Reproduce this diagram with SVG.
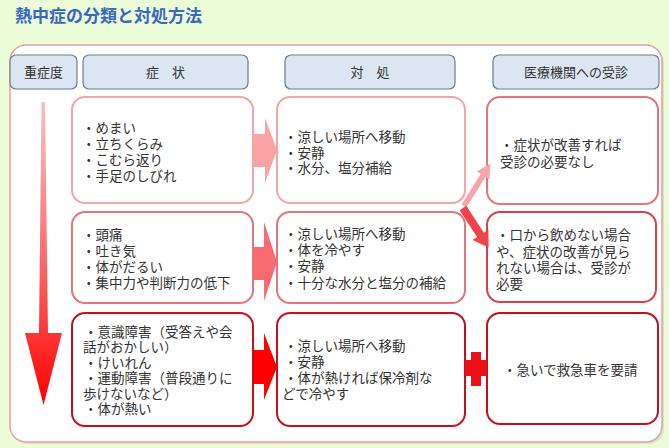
<svg xmlns="http://www.w3.org/2000/svg" width="669" height="448" viewBox="0 0 669 448">
<defs>
<linearGradient id="sev" x1="0" y1="0" x2="0" y2="1">
<stop offset="0" stop-color="#f9c0c0"/>
<stop offset="0.5" stop-color="#fb7070"/>
<stop offset="1" stop-color="#ff0000"/>
</linearGradient>
<style>
.t{font-family:"Liberation Sans","Noto Sans CJK JP",sans-serif;font-size:13.5px;fill:#333}
.h{font-family:"Liberation Sans","Noto Sans CJK JP",sans-serif;font-size:13px;fill:#333;text-anchor:middle}
.hb{fill:#dce6f2;stroke:#6d7c8e;stroke-width:1.2}
.b1{fill:#fff;stroke:#f4a5a8;stroke-width:2}
.b1m{fill:#fff;stroke:#e3747c;stroke-width:2}
.b2{fill:#fff;stroke:#e7737c;stroke-width:2}
.b2m{fill:#fff;stroke:#d8404a;stroke-width:2}
.b3{fill:#fff;stroke:#c4101c;stroke-width:2}
</style>
</defs>
<rect width="669" height="448" fill="#ebfcd9"/>
<text x="15" y="22" font-family="'Liberation Sans','Noto Sans CJK JP',sans-serif" font-size="17" font-weight="bold" fill="#3a68c0">熱中症の分類と対処方法</text>
<rect x="12" y="47" width="652" height="397" rx="16" fill="#c9d3c0" opacity="0.6"/>
<rect x="10" y="45" width="652" height="397" rx="16" fill="#fff" stroke="#eaa09c" stroke-width="1.5"/>

<g id="header-severity"><rect class="hb" x="10" y="55" width="67" height="34" rx="6"/><text class="h" x="43.5" y="77">重症度</text></g>
<g id="header-symptoms"><rect class="hb" x="83" y="55" width="165" height="34" rx="6"/><text class="h" x="165.5" y="77">症　状</text></g>
<g id="header-action"><rect class="hb" x="285" y="55" width="170" height="34" rx="6"/><text class="h" x="370" y="77">対　処</text></g>
<g id="header-medical"><rect class="hb" x="493" y="55" width="166" height="34" rx="6"/><text class="h" x="576" y="77">医療機関への受診</text></g>

<g id="severity-arrow"><polygon points="41.5,102 45,102 48,333 62,333 43.5,405 25,333 39,333" fill="url(#sev)"/></g>

<g id="row1-symptoms"><rect class="b1" x="72" y="97" width="181" height="106" rx="13"/>
<text class="t"><tspan x="82" y="133">・めまい</tspan><tspan x="82" y="149">・立ちくらみ</tspan><tspan x="82" y="165">・こむら返り</tspan><tspan x="82" y="181">・手足のしびれ</tspan></text></g>
<g id="row1-action"><rect class="b1" x="277" y="97" width="188" height="106" rx="13"/>
<text class="t"><tspan x="284" y="142">・涼しい場所へ移動</tspan><tspan x="284" y="157.5">・安静</tspan><tspan x="284" y="173">・水分、塩分補給</tspan></text></g>
<g id="row1-medical"><rect class="b1m" x="487" y="97" width="171" height="107" rx="13"/>
<text class="t"><tspan x="500" y="150">・症状が改善すれば</tspan><tspan x="500" y="167">受診の必要なし</tspan></text></g>

<g id="row2-symptoms"><rect class="b2" x="72" y="212" width="181" height="91" rx="13"/>
<text class="t"><tspan x="82" y="240">・頭痛</tspan><tspan x="82" y="256">・吐き気</tspan><tspan x="82" y="272">・体がだるい</tspan><tspan x="82" y="288">・集中力や判断力の低下</tspan></text></g>
<g id="row2-action"><rect class="b2" x="277" y="212" width="188" height="91" rx="13"/>
<text class="t"><tspan x="284" y="239">・涼しい場所へ移動</tspan><tspan x="284" y="255">・体を冷やす</tspan><tspan x="284" y="271">・安静</tspan><tspan x="284" y="288">・十分な水分と塩分の補給</tspan></text></g>
<g id="row2-medical"><rect class="b2m" x="487" y="212" width="169" height="90" rx="13"/>
<text class="t"><tspan x="496" y="240">・口から飲めない場合</tspan><tspan x="496" y="257">や、症状の改善が見ら</tspan><tspan x="496" y="273">れない場合は、受診が</tspan><tspan x="496" y="289">必要</tspan></text></g>

<g id="row3-symptoms"><rect class="b3" x="72" y="313" width="181" height="113" rx="13"/>
<text class="t"><tspan x="84" y="336.5">・意識障害（受答えや会</tspan><tspan x="83" y="352">話がおかしい）</tspan><tspan x="84" y="367.5">・けいれん</tspan><tspan x="84" y="383">・運動障害（普段通りに</tspan><tspan x="83" y="398.5">歩けないなど）</tspan><tspan x="84" y="414">・体が熱い</tspan></text></g>
<g id="row3-action"><rect class="b3" x="277" y="313" width="188" height="113" rx="13"/>
<text class="t"><tspan x="284" y="351">・涼しい場所へ移動</tspan><tspan x="284" y="367">・安静</tspan><tspan x="284" y="383">・体が熱ければ保冷剤な</tspan><tspan x="282" y="399">どで冷やす</tspan></text></g>
<g id="row3-medical"><rect class="b3" x="487" y="313" width="171" height="111" rx="13"/>
<text class="t"><tspan x="503" y="375">・急いで救急車を要請</tspan></text></g>

<g id="connectors">
<polygon points="254,134 265,134 265,118 277,150 265,183 265,167 254,167" fill="#f9a3a6"/>
<polygon points="254,247 264,247 264,222 277,262 264,301 264,280 254,280" fill="#f86b70"/>
<polygon points="254,350 264,350 264,333 277,367 264,400 264,384 254,384" fill="#ff0000"/>
<path d="M465,360 H487 V376 H465 Z M471,352 H481 V386 H471 Z" fill="#ee1018"/>
<polygon points="0,-2.8 36,-2.8 36,-7.5 50,0 36,7.5 36,2.8 0,2.8" fill="#f8a4ab" transform="translate(464,206) rotate(-58)"/>
<polygon points="0,-4 32,-4 32,-9.5 47,0 32,9.5 32,4 0,4" fill="#f0434b" transform="translate(463,208) rotate(57)"/>
</g>
</svg>
